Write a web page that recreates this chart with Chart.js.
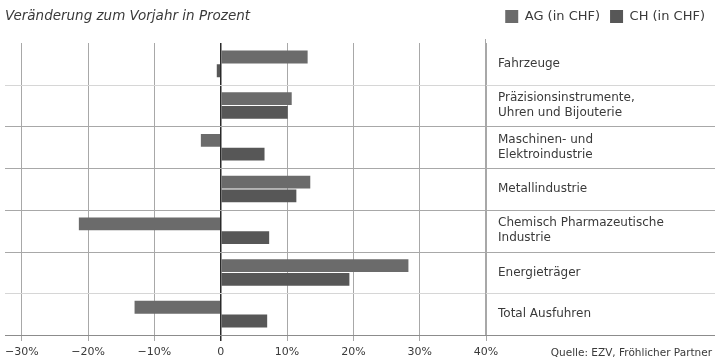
<!DOCTYPE html>
<html lang="de">
<head>
<meta charset="utf-8">
<title>Exporte nach Branchen</title>
<script src="https://cdn.jsdelivr.net/npm/chart.js@4.4.1/dist/chart.umd.min.js"></script>
<style>
    html, body { margin: 0; padding: 0; background: #ffffff; }
    #wrap { position: relative; width: 715px; height: 363px; }
</style>
</head>
<body>
<div id="wrap"><canvas id="exportChart" width="715" height="363"></canvas></div>
<script>
// ===== DATA =====
const branchen = [
    'Fahrzeuge',
    ['Präzisionsinstrumente,', 'Uhren und Bijouterie'],
    ['Maschinen- und', 'Elektroindustrie'],
    'Metallindustrie',
    ['Chemisch Pharmazeutische', 'Industrie'],
    'Energieträger',
    'Total Ausfuhren'
];
const werteAG = [13.1, 10.7, -3.0, 13.5, -21.4, 28.3, -13.0];
const werteCH = [-0.6, 10.1, 6.6, 11.4, 7.3, 19.4, 7.0];
const xTicks = [-30, -20, -10, 0, 10, 20, 30, 40];

const TITEL = 'Veränderung zum Vorjahr in Prozent';
const QUELLE = 'Quelle: EZV, Fröhlicher Partner';

// ===== STYLE =====
const FONT = '"DejaVu Sans", "Open Sans", sans-serif';
const TEXT_COLOR = '#3a3a3a';
const GRID_COLOR = '#a8a8a8';

// light separators only below single-line rows that sit next to each other
const lightSeparators = [0, 5];

// ===== PLUGINS =====
// extra room between legend row and plot
const legendGap = {
    id: 'legendGap',
    beforeInit(chart) {
        const fit = chart.legend.fit;
        chart.legend.fit = function () {
            fit.bind(chart.legend)();
            this.height += 10;
        };
    }
};

const decorations = {
    id: 'decorations',
    beforeDatasetsDraw(chart) {
        const { ctx, chartArea, scales } = chart;
        const y = scales.y;
        ctx.save();
        ctx.lineWidth = 1;
        // separators between branches, running across the label column
        for (let i = 0; i < branchen.length; i++) {
            const yy = Math.round(y.getPixelForValue(i + 0.5)) + 0.5;
            ctx.strokeStyle = lightSeparators.includes(i) ? '#d6d6d6' : GRID_COLOR;
            if (i === branchen.length - 1) ctx.strokeStyle = '#8c8c8c';
            ctx.beginPath();
            ctx.moveTo(5, yy);
            ctx.lineTo(chart.width, yy);
            ctx.stroke();
        }
        // right border of the plot
        ctx.strokeStyle = GRID_COLOR;
        ctx.beginPath();
        ctx.moveTo(Math.round(chartArea.right) - 0.5, chartArea.top - 4);
        ctx.lineTo(Math.round(chartArea.right) - 0.5, chartArea.bottom);
        ctx.stroke();
        ctx.restore();
    },
    afterDraw(chart) {
        const { ctx } = chart;
        ctx.save();
        ctx.fillStyle = TEXT_COLOR;
        ctx.textBaseline = 'middle';
        ctx.font = 'italic 13.5px ' + FONT;
        ctx.fillText(TITEL, 5, 16);
        ctx.font = '10.5px ' + FONT;
        ctx.textAlign = 'right';
        ctx.fillText(QUELLE, chart.width - 3, 353);
        ctx.restore();
    }
};

// ===== CHART =====
const ctx = document.getElementById('exportChart').getContext('2d');
new Chart(ctx, {
    type: 'bar',
    data: {
        labels: branchen,
        datasets: [
            {
                label: 'AG (in CHF)',
                data: werteAG,
                backgroundColor: '#6b6b6b',
                borderWidth: 0,
                categoryPercentage: 0.66,
                barPercentage: 0.93
            },
            {
                label: 'CH (in CHF)',
                data: werteCH,
                backgroundColor: '#575757',
                borderWidth: 0,
                categoryPercentage: 0.66,
                barPercentage: 0.93
            }
        ]
    },
    options: {
        indexAxis: 'y',
        responsive: false,
        animation: false,
        layout: { padding: { left: 20, top: 0, right: 0, bottom: 0 } },
        plugins: {
            legend: {
                position: 'top',
                align: 'end',
                labels: {
                    boxWidth: 13,
                    boxHeight: 13,
                    padding: 10,
                    color: TEXT_COLOR,
                    font: { family: FONT, size: 13 }
                }
            },
            tooltip: { enabled: false }
        },
        scales: {
            x: {
                type: 'linear',
                min: -30,
                max: 40,
                afterBuildTicks: (scale) => {
                    scale.ticks = xTicks.map(v => ({ value: v }));
                },
                afterFit: (scale) => { scale.height = 28; },
                grid: {
                    color: (c) => c.tick && c.tick.value === 0 ? '#2a2a2a' : GRID_COLOR,
                    lineWidth: (c) => c.tick && c.tick.value === 0 ? 1.5 : 1,
                    drawTicks: true,
                    tickLength: 6
                },
                border: { display: false },
                ticks: {
                    color: TEXT_COLOR,
                    padding: 5,
                    font: { family: FONT, size: 11 },
                    callback: (v) => v === 0 ? '0' : (v < 0 ? '\u2212' + Math.abs(v) : v) + '%'
                }
            },
            y: {
                position: 'right',
                afterFit: (scale) => { scale.width = 229; },
                grid: { display: false, drawTicks: false },
                border: { display: false },
                ticks: {
                    color: TEXT_COLOR,
                    padding: 12,
                    font: { family: FONT, size: 12, lineHeight: 1.25 }
                }
            }
        }
    },
    plugins: [legendGap, decorations]
});
</script>
</body>
</html>
